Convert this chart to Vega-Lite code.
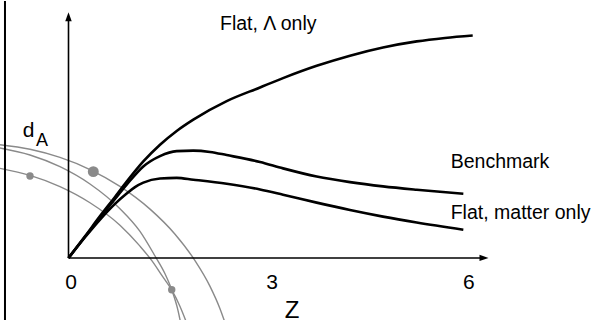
{
  "$schema": "https://vega.github.io/schema/vega-lite/v6.json",
  "width": 598,
  "height": 324,
  "padding": 0,
  "autosize": {"type": "fit", "contains": "padding"},
  "background": "white",
  "config": {"view": {"stroke": null}, "text": {"font": "Liberation Sans"}},
  "datasets": {
    "curves": [
      {"series": "Flat, Λ only", "z": 0, "d": 0},
      {"series": "Flat, Λ only", "z": 0.248, "d": 0.22},
      {"series": "Flat, Λ only", "z": 0.474, "d": 0.425},
      {"series": "Flat, Λ only", "z": 0.699, "d": 0.62},
      {"series": "Flat, Λ only", "z": 0.875, "d": 0.775},
      {"series": "Flat, Λ only", "z": 1.125, "d": 0.98},
      {"series": "Flat, Λ only", "z": 1.376, "d": 1.15},
      {"series": "Flat, Λ only", "z": 1.627, "d": 1.29},
      {"series": "Flat, Λ only", "z": 1.877, "d": 1.405},
      {"series": "Flat, Λ only", "z": 2.379, "d": 1.593},
      {"series": "Flat, Λ only", "z": 2.88, "d": 1.732},
      {"series": "Flat, Λ only", "z": 3.226, "d": 1.827},
      {"series": "Flat, Λ only", "z": 3.732, "d": 1.952},
      {"series": "Flat, Λ only", "z": 4.233, "d": 2.055},
      {"series": "Flat, Λ only", "z": 4.729, "d": 2.138},
      {"series": "Flat, Λ only", "z": 5.236, "d": 2.2},
      {"series": "Flat, Λ only", "z": 5.662, "d": 2.235},
      {"series": "Flat, Λ only", "z": 6.078, "d": 2.26},
      {"series": "Benchmark", "z": 0, "d": 0},
      {"series": "Benchmark", "z": 0.248, "d": 0.215},
      {"series": "Benchmark", "z": 0.474, "d": 0.41},
      {"series": "Benchmark", "z": 0.699, "d": 0.6},
      {"series": "Benchmark", "z": 0.875, "d": 0.745},
      {"series": "Benchmark", "z": 1.125, "d": 0.93},
      {"series": "Benchmark", "z": 1.376, "d": 1.035},
      {"series": "Benchmark", "z": 1.627, "d": 1.085},
      {"series": "Benchmark", "z": 1.877, "d": 1.09},
      {"series": "Benchmark", "z": 2.128, "d": 1.077},
      {"series": "Benchmark", "z": 2.379, "d": 1.045},
      {"series": "Benchmark", "z": 2.88, "d": 0.975},
      {"series": "Benchmark", "z": 3.226, "d": 0.91},
      {"series": "Benchmark", "z": 3.732, "d": 0.827},
      {"series": "Benchmark", "z": 4.233, "d": 0.77},
      {"series": "Benchmark", "z": 4.729, "d": 0.727},
      {"series": "Benchmark", "z": 5.236, "d": 0.693},
      {"series": "Benchmark", "z": 5.937, "d": 0.653},
      {"series": "Flat, matter only", "z": 0, "d": 0},
      {"series": "Flat, matter only", "z": 0.248, "d": 0.21},
      {"series": "Flat, matter only", "z": 0.474, "d": 0.39},
      {"series": "Flat, matter only", "z": 0.699, "d": 0.55},
      {"series": "Flat, matter only", "z": 0.875, "d": 0.655},
      {"series": "Flat, matter only", "z": 1.0, "d": 0.72},
      {"series": "Flat, matter only", "z": 1.125, "d": 0.765},
      {"series": "Flat, matter only", "z": 1.376, "d": 0.807},
      {"series": "Flat, matter only", "z": 1.627, "d": 0.814},
      {"series": "Flat, matter only", "z": 1.877, "d": 0.795},
      {"series": "Flat, matter only", "z": 2.379, "d": 0.753},
      {"series": "Flat, matter only", "z": 2.88, "d": 0.696},
      {"series": "Flat, matter only", "z": 3.226, "d": 0.643},
      {"series": "Flat, matter only", "z": 3.732, "d": 0.562},
      {"series": "Flat, matter only", "z": 4.233, "d": 0.487},
      {"series": "Flat, matter only", "z": 4.729, "d": 0.42},
      {"series": "Flat, matter only", "z": 5.236, "d": 0.36},
      {"series": "Flat, matter only", "z": 5.937, "d": 0.287}
    ],
    "arcs": [
      {"arc": "A", "z": -1.03, "d": 1.15},
      {"arc": "A", "z": -0.579, "d": 1.104},
      {"arc": "A", "z": -0.128, "d": 1.021},
      {"arc": "A", "z": 0.323, "d": 0.898},
      {"arc": "A", "z": 0.774, "d": 0.727},
      {"arc": "A", "z": 1.226, "d": 0.496},
      {"arc": "A", "z": 1.602, "d": 0.241},
      {"arc": "A", "z": 1.902, "d": -0.027},
      {"arc": "A", "z": 2.128, "d": -0.288},
      {"arc": "A", "z": 2.278, "d": -0.515},
      {"arc": "A", "z": 2.353, "d": -0.656},
      {"arc": "B", "z": -1.03, "d": 1.117},
      {"arc": "B", "z": -0.579, "d": 1.046},
      {"arc": "B", "z": -0.128, "d": 0.927},
      {"arc": "B", "z": 0.323, "d": 0.751},
      {"arc": "B", "z": 0.774, "d": 0.5},
      {"arc": "B", "z": 1.075, "d": 0.27},
      {"arc": "B", "z": 1.301, "d": 0.02},
      {"arc": "B", "z": 1.451, "d": -0.16},
      {"arc": "B", "z": 1.556, "d": -0.33},
      {"arc": "B", "z": 1.647, "d": -0.534},
      {"arc": "B", "z": 1.692, "d": -0.678},
      {"arc": "C", "z": -1.03, "d": 0.91},
      {"arc": "C", "z": -0.579, "d": 0.839},
      {"arc": "C", "z": -0.128, "d": 0.725},
      {"arc": "C", "z": 0.323, "d": 0.561},
      {"arc": "C", "z": 0.774, "d": 0.333},
      {"arc": "C", "z": 1.075, "d": 0.12},
      {"arc": "C", "z": 1.256, "d": -0.03},
      {"arc": "C", "z": 1.406, "d": -0.18},
      {"arc": "C", "z": 1.556, "d": -0.33},
      {"arc": "C", "z": 1.677, "d": -0.493},
      {"arc": "C", "z": 1.767, "d": -0.643}
    ],
    "bigdots": [{"z": 0.373, "d": 0.877}],
    "smalldots": [{"z": -0.579, "d": 0.833}, {"z": 1.552, "d": -0.323}],
    "axes": [
      {"z": 0, "d": 0, "z2": 0, "d2": 2.41},
      {"z": 0, "d": 0, "z2": 6.19, "d2": 0}
    ],
    "border": [{"z": -0.955}],
    "yarrow": [{"z": 0, "d": 2.45}],
    "xarrow": [{"z": 6.248, "d": 0}],
    "ticklabels": [
      {"label": "0", "z": 0.038, "d": -0.32},
      {"label": "3", "z": 3.06, "d": -0.32},
      {"label": "6", "z": 6.02, "d": -0.32}
    ],
    "serieslabels": [
      {"label": "Flat, Λ only", "z": 2.278, "d": 2.315},
      {"label": "Benchmark", "z": 5.747, "d": 0.917},
      {"label": "Flat, matter only", "z": 5.747, "d": 0.395}
    ],
    "dlabel": [{"label": "d", "z": -0.689, "d": 1.227}],
    "sublabel": [{"label": "A", "z": -0.489, "d": 1.137}],
    "zlabel": [{"label": "Z", "z": 3.361, "d": -0.613}]
  },
  "encoding": {
    "x": {"field": "z", "type": "quantitative", "scale": {"domain": [-1.03, 7.962], "nice": false, "zero": false}, "axis": null},
    "y": {"field": "d", "type": "quantitative", "scale": {"domain": [-0.63, 2.61], "nice": false, "zero": false}, "axis": null}
  },
  "layer": [
    {
      "data": {"name": "arcs"},
      "mark": {"type": "line", "color": "#8a8a8a", "strokeWidth": 1.4, "interpolate": "monotone", "clip": true},
      "encoding": {"detail": {"field": "arc", "type": "nominal"}}
    },
    {
      "data": {"name": "bigdots"},
      "mark": {"type": "point", "filled": true, "color": "#8a8a8a", "opacity": 1, "size": 120}
    },
    {
      "data": {"name": "smalldots"},
      "mark": {"type": "point", "filled": true, "color": "#8a8a8a", "opacity": 1, "size": 55, "clip": true}
    },
    {
      "data": {"name": "border"},
      "mark": {"type": "rule", "color": "black", "strokeWidth": 2},
      "encoding": {"y": null}
    },
    {
      "data": {"name": "axes"},
      "mark": {"type": "rule", "color": "black", "strokeWidth": 1.6},
      "encoding": {
        "x2": {"field": "z2"},
        "y2": {"field": "d2"}
      }
    },
    {
      "data": {"name": "yarrow"},
      "mark": {"type": "point", "filled": true, "color": "black", "opacity": 1, "size": 81, "shape": "M0,-1L0.72,1L-0.72,1Z"}
    },
    {
      "data": {"name": "xarrow"},
      "mark": {"type": "point", "filled": true, "color": "black", "opacity": 1, "size": 81, "shape": "M1,0L-1,-0.7L-1,0.7Z"}
    },
    {
      "data": {"name": "curves"},
      "mark": {"type": "line", "color": "black", "strokeWidth": 2.6, "interpolate": "monotone"},
      "encoding": {"detail": {"field": "series", "type": "nominal"}}
    },
    {
      "data": {"name": "ticklabels"},
      "mark": {"type": "text", "fontSize": 21, "align": "center", "baseline": "alphabetic", "color": "black"},
      "encoding": {"text": {"field": "label"}}
    },
    {
      "data": {"name": "serieslabels"},
      "mark": {"type": "text", "fontSize": 19.5, "align": "left", "baseline": "alphabetic", "color": "black"},
      "encoding": {"text": {"field": "label"}}
    },
    {
      "data": {"name": "dlabel"},
      "mark": {"type": "text", "fontSize": 21, "align": "left", "baseline": "alphabetic", "color": "black"},
      "encoding": {"text": {"field": "label"}}
    },
    {
      "data": {"name": "sublabel"},
      "mark": {"type": "text", "fontSize": 18, "align": "left", "baseline": "alphabetic", "color": "black"},
      "encoding": {"text": {"field": "label"}}
    },
    {
      "data": {"name": "zlabel"},
      "mark": {"type": "text", "fontSize": 24, "align": "center", "baseline": "alphabetic", "color": "black"},
      "encoding": {"text": {"field": "label"}}
    }
  ]
}
